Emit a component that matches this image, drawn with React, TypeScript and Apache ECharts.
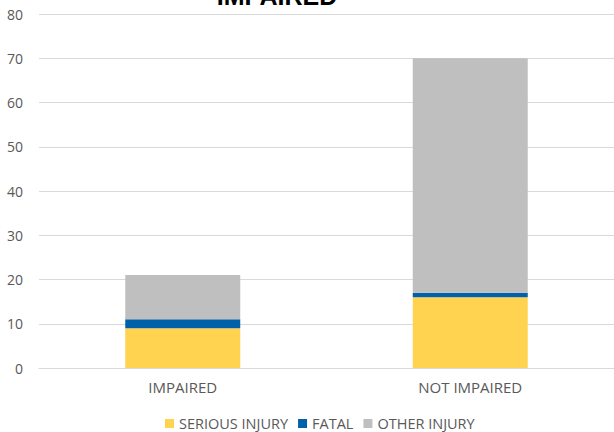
import React, { useEffect, useRef } from "react";
import * as echarts from "echarts";

const categories = ["IMPAIRED", "NOT IMPAIRED"];
const seriousInjury = [9, 16];
const fatal = [2, 1];
const otherInjury = [10, 53];
const yTicks = { min: 0, max: 80, interval: 10 };

export default function App() {
  const ref = useRef<HTMLDivElement>(null);
  useEffect(() => {
    if (!ref.current) return;
    const chart = echarts.init(ref.current, undefined, { renderer: "svg" });
    const font = "Open Sans, sans-serif";
    chart.setOption({
      animation: false,
      graphic: [
        {
          type: "text",
          x: 277,
          y: -4,
          style: {
            text: "IMPAIRED",
            font: "bold 25px Liberation Sans, Arial, sans-serif",
            fill: "#000",
            align: "center",
            verticalAlign: "middle",
          },
        },
      ],
      grid: { left: 39, right: 0, top: 14, bottom: 64 },
      legend: {
        bottom: -4,
        left: 160,
        itemWidth: 9,
        itemHeight: 9,
        itemGap: 10,
        icon: "rect",
        textStyle: { color: "#595959", fontSize: 14.5, fontFamily: font },
        data: ["SERIOUS INJURY", "FATAL", "OTHER INJURY"],
      },
      xAxis: {
        type: "category",
        data: categories,
        axisLine: { lineStyle: { color: "#D9D9D9" } },
        axisTick: { show: false },
        axisLabel: { color: "#595959", fontSize: 15, fontFamily: font, margin: 11 },
      },
      yAxis: {
        type: "value",
        min: yTicks.min,
        max: yTicks.max,
        interval: yTicks.interval,
        axisLine: { show: false },
        axisTick: { show: false },
        splitLine: { lineStyle: { color: "#D9D9D9", width: 1 } },
        axisLabel: { color: "#595959", fontSize: 14, fontFamily: font, margin: 16 },
      },
      series: [
        { name: "SERIOUS INJURY", type: "bar", stack: "a", data: seriousInjury, barWidth: "40%", itemStyle: { color: "#FFD34F" } },
        { name: "FATAL", type: "bar", stack: "a", data: fatal, itemStyle: { color: "#0061AA" } },
        { name: "OTHER INJURY", type: "bar", stack: "a", data: otherInjury, itemStyle: { color: "#BFBFBF" } },
      ],
    });
    return () => chart.dispose();
  }, []);
  return <div ref={ref} style={{ width: 614, height: 432, position: "absolute", left: 0, top: 0 }} />;
}
